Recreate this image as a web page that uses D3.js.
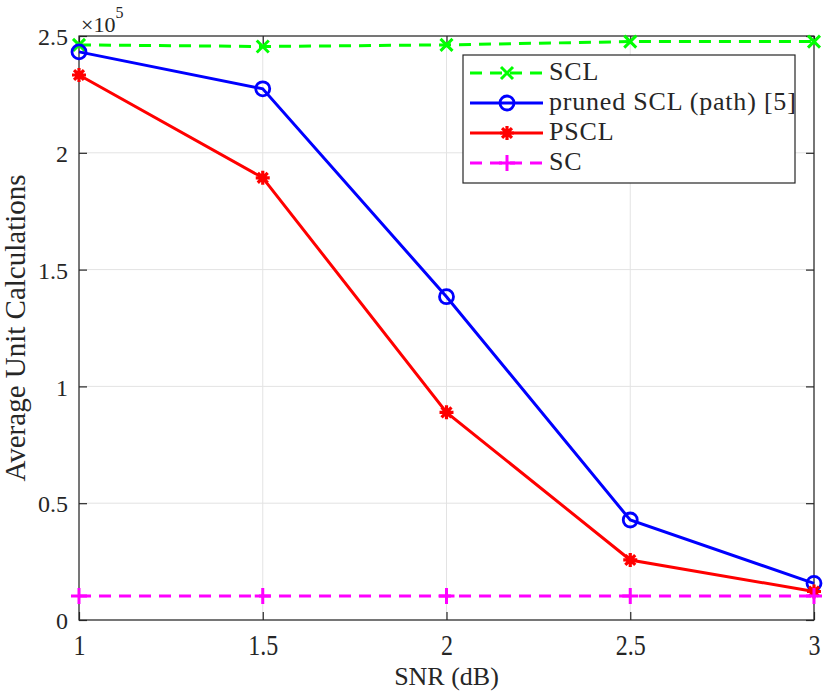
<!DOCTYPE html>
<html>
<head>
<meta charset="utf-8">
<script src="https://cdn.jsdelivr.net/npm/d3@7"></script>
</head>
<body style="margin:0; background:#fff;">
<div id="chart"></div>
<script>
// data (values in units of 1e5)
var snr = [1, 1.5, 2, 2.5, 3];
var sclVals = [2.462, 2.455, 2.462, 2.476, 2.476];
var prunedVals = [2.432, 2.274, 1.384, 0.428, 0.157];
var psclVals = [2.333, 1.893, 0.889, 0.257, 0.122];
var scVals = [0.103, 0.103, 0.103, 0.103, 0.103];
var xTicks = [1, 1.5, 2, 2.5, 3];
var yTicks = [0, 0.5, 1, 1.5, 2, 2.5];

var series = [
  {name: "SCL", values: sclVals, color: "#00ff00", dash: "12,8", marker: "x"},
  {name: "pruned SCL (path) [5]", values: prunedVals, color: "#0000ff", dash: null, marker: "o"},
  {name: "PSCL", values: psclVals, color: "#ff0000", dash: null, marker: "*"},
  {name: "SC", values: scVals, color: "#ff00ff", dash: "12,8", marker: "+"}
];

var W = 830, H = 691;
var margin = {top: 36, right: 16, bottom: 71, left: 79};
var width = W - margin.left - margin.right;
var height = H - margin.top - margin.bottom;
var serif = "'Liberation Serif'";
var ink = "#262626";

var svg = d3.select("#chart").append("svg")
    .attr("width", W)
    .attr("height", H);

var g = svg.append("g")
    .attr("transform", "translate(" + margin.left + "," + margin.top + ")");

var x = d3.scaleLinear().domain([1, 3]).range([0, width]);
var y = d3.scaleLinear().domain([0, 2.5]).range([height, 0]);

// grid
g.selectAll("line.gx").data(xTicks).enter().append("line")
    .attr("x1", d => x(d)).attr("x2", d => x(d))
    .attr("y1", 0).attr("y2", height)
    .attr("stroke", "#e3e3e3").attr("stroke-width", 1);
g.selectAll("line.gy").data(yTicks).enter().append("line")
    .attr("y1", d => y(d)).attr("y2", d => y(d))
    .attr("x1", 0).attr("x2", width)
    .attr("stroke", "#e3e3e3").attr("stroke-width", 1);

// axes (ticks pointing inward, MATLAB style)
var tickLen = 8;
function styleAxis(sel) {
  sel.select(".domain").remove();
  sel.selectAll(".tick line").attr("stroke", ink).attr("stroke-width", 1.2);
  sel.selectAll(".tick text")
      .style("font-family", serif)
      .style("font-size", "24px")
      .style("fill", ink);
}
var xAxis = g.append("g").attr("transform", "translate(0," + height + ")")
    .call(d3.axisBottom(x).tickValues(xTicks).tickFormat(d3.format("")).tickSizeInner(-tickLen));
styleAxis(xAxis);
// x tick labels are drawn a bit taller in the reference
xAxis.selectAll(".tick text")
    .attr("y", 0).attr("dy", null)
    .attr("transform", "translate(0,35) scale(1,1.22)");
var xTop = g.append("g")
    .call(d3.axisTop(x).tickValues(xTicks).tickFormat("").tickSizeInner(-tickLen));
styleAxis(xTop);
var yAxis = g.append("g")
    .call(d3.axisLeft(y).tickValues(yTicks).tickFormat(d3.format("")).tickSizeInner(-tickLen));
styleAxis(yAxis);
yAxis.selectAll(".tick text").attr("x", -11).attr("dy", "0.36em");
var yRight = g.append("g").attr("transform", "translate(" + width + ",0)")
    .call(d3.axisRight(y).tickValues(yTicks).tickFormat("").tickSizeInner(-tickLen));
styleAxis(yRight);

// box
g.append("rect")
    .attr("width", width).attr("height", height)
    .attr("fill", "none").attr("stroke", ink).attr("stroke-width", 1.2);

// marker drawing
function drawMarker(sel, type, color) {
  if (type === "o") {
    sel.append("circle").attr("r", 7).attr("fill", "none")
        .attr("stroke", color).attr("stroke-width", 2.8);
  } else if (type === "x") {
    var s = 6;
    sel.append("path").attr("d", "M" + -s + "," + -s + "L" + s + "," + s + "M" + -s + "," + s + "L" + s + "," + -s)
        .attr("stroke", color).attr("stroke-width", 3);
  } else if (type === "+") {
    var p = 8;
    sel.append("path").attr("d", "M" + -p + ",0L" + p + ",0M0," + -p + "L0," + p)
        .attr("stroke", color).attr("stroke-width", 3);
  } else if (type === "*") {
    var r = 7, d = "";
    for (var i = 0; i < 4; i++) {
      var a = i * Math.PI / 4;
      d += "M" + (-r * Math.cos(a)) + "," + (-r * Math.sin(a)) + "L" + (r * Math.cos(a)) + "," + (r * Math.sin(a));
    }
    sel.append("path").attr("d", d).attr("stroke", color).attr("stroke-width", 3.2);
    sel.append("circle").attr("r", 4).attr("fill", color);
  }
}

var line = d3.line().x((d, i) => x(snr[i])).y(d => y(d));

series.forEach(function(s) {
  g.append("path")
      .datum(s.values)
      .attr("d", line)
      .attr("fill", "none")
      .attr("stroke", s.color)
      .attr("stroke-width", 3)
      .attr("stroke-dasharray", s.dash);
  g.selectAll(null).data(s.values).enter().append("g")
      .attr("transform", (d, i) => "translate(" + x(snr[i]) + "," + y(d) + ")")
      .each(function() { drawMarker(d3.select(this), s.marker, s.color); });
});

// exponent label
var expo = svg.append("text")
    .attr("x", margin.left + 2).attr("y", 32)
    .style("font-family", serif).style("font-size", "22px").style("fill", ink);
expo.append("tspan").text("\u00d710");
expo.append("tspan").attr("dy", -14).style("font-size", "16px").text("5");

// axis labels
svg.append("text")
    .attr("x", margin.left + width / 2).attr("y", 685)
    .attr("text-anchor", "middle")
    .style("font-family", serif).style("font-size", "26px").style("fill", ink)
    .text("SNR (dB)");
svg.append("text")
    .attr("transform", "translate(25," + (margin.top + height / 2) + ") rotate(-90)")
    .attr("text-anchor", "middle")
    .style("font-family", serif).style("font-size", "29px").style("fill", ink)
    .text("Average Unit Calculations");

// legend
var lg = svg.append("g").attr("transform", "translate(463,55)");
lg.append("rect")
    .attr("width", 332).attr("height", 128)
    .attr("fill", "#fff").attr("stroke", ink).attr("stroke-width", 1.2);
series.forEach(function(s, i) {
  var row = lg.append("g").attr("transform", "translate(0," + (18 + i * 30) + ")");
  row.append("line")
      .attr("x1", 7).attr("x2", 80).attr("y1", 0).attr("y2", 0)
      .attr("stroke", s.color).attr("stroke-width", 3)
      .attr("stroke-dasharray", s.dash);
  var m = row.append("g").attr("transform", "translate(44,0)");
  drawMarker(m, s.marker, s.color);
  row.append("text")
      .attr("x", 86).attr("y", 7)
      .style("font-family", serif).style("font-size", "26px").style("fill", ink)
      .style("letter-spacing", "0.8px")
      .text(s.name);
});
</script>
</body>
</html>
